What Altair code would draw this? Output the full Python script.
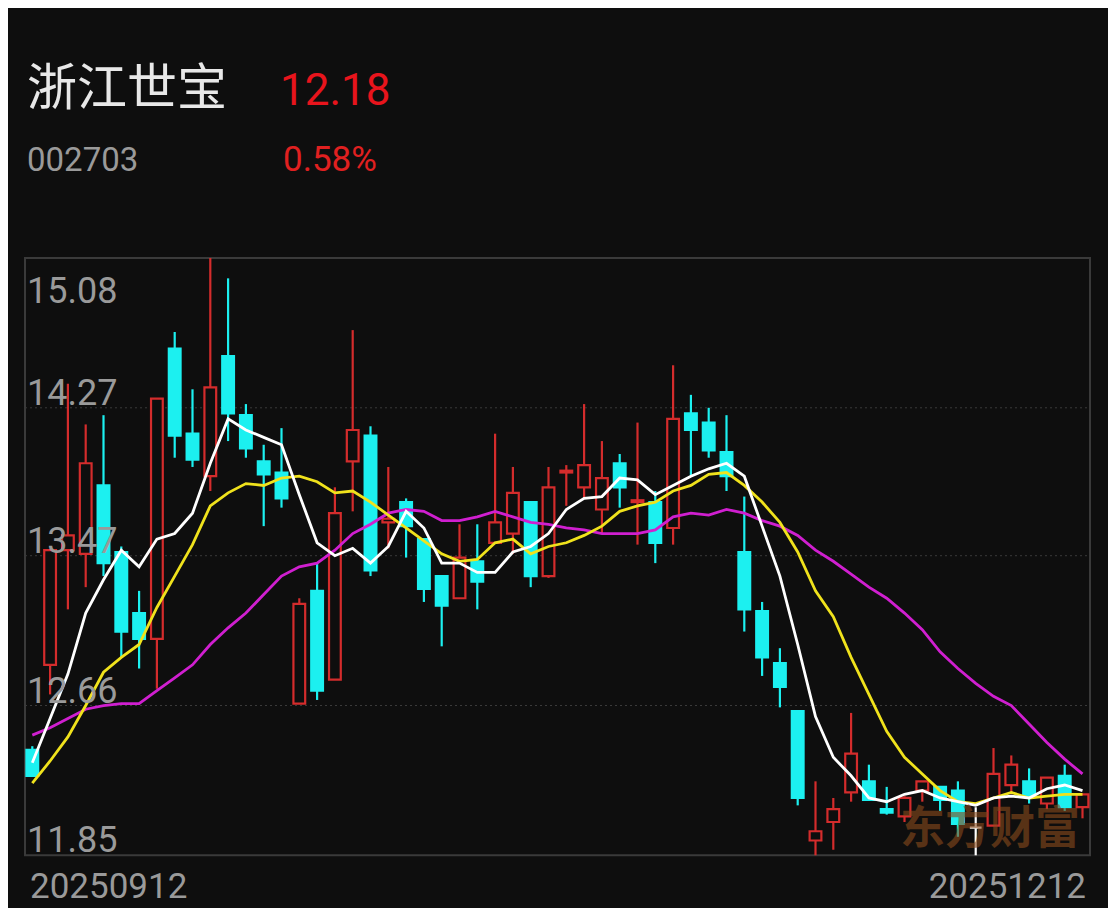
import altair as alt
import pandas as pd

# ---------------- data ----------------
stock_name = "浙江世宝"
stock_code = "002703"
last_price = "12.18"
pct_change = "0.58%"
first_date = "20250912"
last_date = "20251212"
watermark_text = "东方财富"

opens = [12.42, 12.88, 13.50, 13.48, 13.85, 13.49, 13.16, 13.02, 14.59, 14.13,
         13.90, 14.55, 14.23, 13.98, 13.92, 12.67, 13.28, 12.80, 13.98, 14.12,
         13.65, 13.76, 13.56, 13.36, 13.24, 13.44, 13.54, 13.59, 13.76, 13.36,
         13.92, 13.84, 13.72, 13.97, 13.76, 13.76, 13.62, 14.24, 14.19, 14.03,
         13.49, 13.17, 12.89, 12.63, 11.93, 12.03, 12.19, 12.25, 12.10, 12.06,
         12.20, 12.22, 12.20, 12.00, 12.01, 12.23, 12.25, 12.13, 12.28, 12.11]
highs = [12.44, 13.50, 14.40, 14.18, 14.23, 13.52, 13.28, 14.32, 14.68, 14.37,
         15.08, 14.97, 14.29, 14.07, 14.16, 13.24, 13.43, 13.84, 14.69, 14.17,
         13.95, 13.78, 13.56, 13.36, 13.64, 13.64, 14.13, 13.95, 13.76, 13.95,
         13.96, 14.29, 14.09, 14.02, 14.19, 13.82, 14.50, 14.34, 14.27, 14.23,
         13.79, 13.22, 12.97, 12.63, 12.25, 12.16, 12.62, 12.34, 12.22, 12.17,
         12.25, 12.22, 12.25, 12.11, 12.43, 12.39, 12.32, 12.27, 12.34, 12.18]
lows = [12.28, 12.72, 13.18, 13.30, 13.36, 12.92, 12.86, 12.75, 14.00, 13.95,
        13.82, 14.09, 14.00, 13.63, 13.73, 12.67, 12.69, 12.80, 13.71, 13.36,
        13.51, 13.46, 13.22, 12.98, 13.24, 13.18, 13.54, 13.48, 13.30, 13.35,
        13.74, 13.78, 13.59, 13.73, 13.53, 13.43, 13.53, 13.90, 14.00, 13.82,
        13.06, 12.82, 12.65, 12.12, 11.85, 11.88, 12.14, 12.15, 12.07, 12.03,
        12.14, 12.09, 11.95, 11.85, 12.01, 12.18, 12.13, 12.10, 12.09, 12.05]
closes = [12.28, 13.50, 13.58, 13.97, 13.43, 13.06, 13.02, 14.32, 14.12, 13.99,
          14.38, 14.24, 14.05, 13.91, 13.78, 13.21, 12.74, 13.70, 14.15, 13.39,
          13.67, 13.63, 13.29, 13.20, 13.46, 13.33, 13.65, 13.81, 13.36, 13.84,
          13.93, 13.96, 13.89, 13.84, 13.77, 13.54, 14.21, 14.15, 14.04, 13.90,
          13.18, 12.92, 12.76, 12.16, 11.98, 12.10, 12.40, 12.15, 12.08, 12.16,
          12.25, 12.15, 12.02, 12.00, 12.29, 12.34, 12.17, 12.27, 12.11, 12.18]

ma5 = [12.35, 12.59, 12.83, 13.16, 13.34, 13.50, 13.41, 13.56, 13.59, 13.70,
       13.97, 14.21, 14.15, 14.11, 14.07, 13.80, 13.54, 13.47, 13.51, 13.43,
       13.52, 13.71, 13.62, 13.43, 13.43, 13.38, 13.38, 13.49, 13.52, 13.59,
       13.72, 13.78, 13.79, 13.89, 13.88, 13.80, 13.85, 13.90, 13.94, 13.97,
       13.90, 13.63, 13.36, 12.99, 12.60, 12.38, 12.28, 12.16, 12.14, 12.18,
       12.20, 12.16, 12.14, 12.12, 12.16, 12.17, 12.16, 12.21, 12.23, 12.20]
ma10 = [12.24, 12.36, 12.49, 12.66, 12.84, 12.92, 12.99, 13.19, 13.36, 13.53,
        13.74, 13.81, 13.86, 13.85, 13.89, 13.90, 13.87, 13.81, 13.82, 13.76,
        13.69, 13.62, 13.55, 13.48, 13.44, 13.45, 13.54, 13.56, 13.48, 13.52,
        13.54, 13.58, 13.63, 13.71, 13.74, 13.76, 13.82, 13.85, 13.91, 13.92,
        13.85, 13.76, 13.65, 13.49, 13.28, 13.14, 12.92, 12.72, 12.52, 12.38,
        12.29, 12.20, 12.14, 12.13, 12.16, 12.19, 12.16, 12.17, 12.18, 12.18]
ma20 = [12.50, 12.54, 12.59, 12.64, 12.66, 12.67, 12.67, 12.74, 12.81, 12.88,
        12.99, 13.08, 13.16, 13.26, 13.36, 13.41, 13.43, 13.50, 13.59, 13.64,
        13.70, 13.72, 13.71, 13.66, 13.66, 13.68, 13.71, 13.68, 13.65, 13.64,
        13.62, 13.61, 13.59, 13.59, 13.59, 13.61, 13.68, 13.70, 13.69, 13.72,
        13.70, 13.66, 13.63, 13.58, 13.50, 13.44, 13.37, 13.30, 13.24, 13.16,
        13.07, 12.95, 12.86, 12.78, 12.71, 12.66, 12.56, 12.46, 12.37, 12.29]

y_ticks = [15.08, 14.27, 13.47, 12.66, 11.85]

# ---------------- style ----------------
BG = "#0e0e0e"
RED = "#d42c2c"
CYAN = "#1cf0f0"
WHITE = "#ffffff"
YELLOW = "#f0e21c"
MAGENTA = "#d01fd0"
GRID = "#3a3a3a"
LABEL = "#9a9a9a"
NUM_FONT = "Roboto"
CJK_FONT = "Noto Sans CJK SC"

W, H = 1100, 900
# pixel anchors (chart coordinates)
y_top_px, y_bot_px = 250.0, 847.3
slope = (y_bot_px - y_top_px) / (y_ticks[0] - y_ticks[-1])
y_dom = [y_ticks[-1] - (H - y_bot_px) / slope, y_ticks[0] + y_top_px / slope]
x0_px, step = 24.3, 17.8
x_dom = [-x0_px / step, -x0_px / step + W / step]

xs = alt.Scale(domain=x_dom, nice=False, zero=False)
ys = alt.Scale(domain=y_dom, nice=False, zero=False)

n = len(opens)
idx = list(range(n))
dirs = ["up" if c > o else ("down" if c < o else "flat") for o, c in zip(opens, closes)]
df = pd.DataFrame({"i": idx, "open": opens, "high": highs, "low": lows,
                   "close": closes, "dir": dirs})
df["top"] = df[["open", "close"]].max(axis=1)
df["bot"] = df[["open", "close"]].min(axis=1)
half = 0.33
df["xl"] = df["i"] - half
df["xr"] = df["i"] + half

stroke_scale = alt.Scale(domain=["up", "down", "flat"], range=[RED, CYAN, WHITE])
fill_scale = alt.Scale(domain=["up", "down", "flat"], range=[BG, CYAN, WHITE])

X = lambda f: alt.X(f, scale=xs, axis=None)
Y = lambda f: alt.Y(f, scale=ys, axis=None)

frame = alt.Chart(pd.DataFrame({"t": [y_ticks[0]], "b": [y_ticks[-1]]})).mark_rect(
    fillOpacity=0, stroke=GRID, strokeWidth=2
).encode(y=Y("t:Q"), y2="b:Q", x=alt.value(17), x2=alt.value(1082))

grid = alt.Chart(pd.DataFrame({"v": y_ticks[1:-1]})).mark_rule(
    color=GRID, strokeDash=[2, 3], strokeWidth=1
).encode(y=Y("v:Q"), x=alt.value(17), x2=alt.value(1082))

lab_df = pd.DataFrame({"v": y_ticks, "label": [f"{v:.2f}" for v in y_ticks]})
ylab_top = alt.Chart(lab_df.iloc[:1]).mark_text(
    align="left", baseline="alphabetic", dy=45, fontSize=36, font=NUM_FONT, color=LABEL
).encode(y=Y("v:Q"), x=alt.value(19), text="label:N")
ylab_rest = alt.Chart(lab_df.iloc[1:]).mark_text(
    align="left", baseline="alphabetic", dy=-3, fontSize=36, font=NUM_FONT, color=LABEL
).encode(y=Y("v:Q"), x=alt.value(19), text="label:N")

wicks = alt.Chart(df).mark_rule(strokeWidth=2.2).encode(
    x=X("i:Q"), y=Y("low:Q"), y2="high:Q",
    color=alt.Color("dir:N", scale=stroke_scale, legend=None))

bodies = alt.Chart(df).mark_rect(strokeWidth=2.2).encode(
    x=X("xl:Q"), x2="xr:Q", y=Y("top:Q"), y2="bot:Q",
    fill=alt.Fill("dir:N", scale=fill_scale, legend=None),
    stroke=alt.Stroke("dir:N", scale=stroke_scale, legend=None))

def ma_line(vals, col):
    return alt.Chart(pd.DataFrame({"i": idx, "v": vals})).mark_line(
        color=col, strokeWidth=2.8).encode(x=X("i:Q"), y=Y("v:Q"))

lines = [ma_line(ma20, MAGENTA), ma_line(ma10, YELLOW), ma_line(ma5, WHITE)]

def txt(t, x, y, size, color, font, align="left", weight="normal", opacity=1.0):
    return alt.Chart(pd.DataFrame({"t": [t]})).mark_text(
        align=align, baseline="alphabetic", fontSize=size, font=font, color=color,
        fontWeight=weight, opacity=opacity
    ).encode(text="t:N", x=alt.value(x), y=alt.value(y))

texts = [
    txt(stock_name, 19, 97, 50, "#e8e8e8", CJK_FONT),
    txt(last_price, 272, 97, 44, "#e8141c", NUM_FONT),
    txt(stock_code, 19, 163, 33, LABEL, NUM_FONT),
    txt(pct_change, 275, 163, 35, "#e02020", NUM_FONT),
    txt(first_date, 22, 890, 35, LABEL, NUM_FONT),
    txt(last_date, 1078, 890, 35, LABEL, NUM_FONT, align="right"),
]
watermark = txt(watermark_text, 982, 836, 45, "#8a4a1c", CJK_FONT, align="center",
                weight="bold", opacity=0.6)

chart = alt.layer(frame, grid, wicks, bodies, *lines, ylab_top, ylab_rest,
                  *texts, watermark).properties(
    width=W, height=H, padding=0, background=BG,
    autosize=alt.AutoSizeParams(type="none")
).configure_view(strokeWidth=0)

chart.save("out.html", embed_options={"renderer": "svg", "actions": False})
